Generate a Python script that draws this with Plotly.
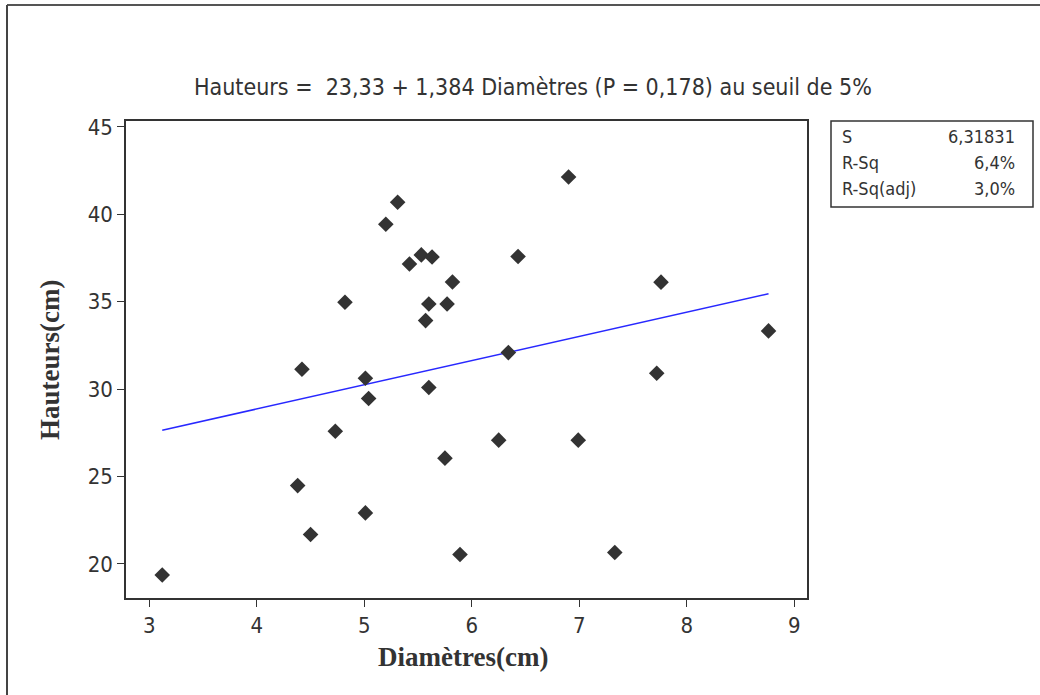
import plotly.graph_objects as go

# Data
diametres = [3.12, 4.38, 4.42, 4.50, 4.73, 4.82, 5.01, 5.01, 5.04, 5.20,
             5.31, 5.42, 5.53, 5.57, 5.60, 5.60, 5.63, 5.75, 5.77, 5.82,
             5.89, 6.25, 6.34, 6.43, 6.90, 6.99, 7.33, 7.72, 7.76, 8.76]
hauteurs = [19.37, 24.48, 31.14, 21.68, 27.59, 34.97, 30.62, 22.92, 29.46, 39.43,
            40.69, 37.16, 37.68, 33.92, 34.87, 30.09, 37.56, 26.05, 34.87, 36.13,
            20.54, 27.08, 32.09, 37.59, 42.14, 27.08, 20.65, 30.91, 36.12, 33.33]

intercept = 23.33
slope = 1.384

x_ticks = [3, 4, 5, 6, 7, 8, 9]
y_ticks = [20, 25, 30, 35, 40, 45]

stat_labels = ["S", "R-Sq", "R-Sq(adj)"]
stat_values = ["6,31831", "6,4%", "3,0%"]

title_text = "Hauteurs =  23,33 + 1,384 Diamètres (P = 0,178) au seuil de 5%"

SANS = "DejaVu Sans Condensed, Noto Sans, DejaVu Sans, sans-serif"
SERIF = "Liberation Serif, Times New Roman, serif"
DARK = "#333333"

# Layout geometry (pixels)
W, H = 1040, 695
L, R, T, B = 126, 807, 121, 598
PW, PH = R - L, B - T


def px(x):
    return (x - L) / PW


def py(y):
    return (B - y) / PH


fig = go.Figure()

x_line = [min(diametres), max(diametres)]
y_line = [intercept + slope * v for v in x_line]
fig.add_trace(go.Scatter(x=x_line, y=y_line, mode="lines",
                         line=dict(color="rgb(40,40,255)", width=1.5),
                         hoverinfo="skip", showlegend=False))

fig.add_trace(go.Scatter(x=diametres, y=hauteurs, mode="markers",
                         marker=dict(symbol="diamond", size=12, color=DARK,
                                     line=dict(width=0)),
                         showlegend=False))

axis_common = dict(showgrid=False, zeroline=False, showline=True, mirror=True,
                   linecolor=DARK, linewidth=1.5, ticks="outside", ticklen=7,
                   tickcolor=DARK, tickwidth=1,
                   tickfont=dict(family=SANS, size=22, color=DARK))

fig.update_xaxes(range=[2.783, 9.118], tickvals=x_ticks,
                 ticktext=[str(v) for v in x_ticks], **axis_common)
fig.update_yaxes(range=[18.05, 45.34], tickvals=y_ticks,
                 ticktext=[str(v) for v in y_ticks], **axis_common)

annotations = [
    dict(text=title_text, x=px(533), y=py(87), xref="paper", yref="paper",
         showarrow=False, xanchor="center", yanchor="middle",
         font=dict(family=SANS, size=23, color=DARK)),
    dict(text="<b>Diamètres(cm)</b>", x=px(463), y=py(657), xref="paper", yref="paper",
         showarrow=False, xanchor="center", yanchor="middle",
         font=dict(family=SERIF, size=27, color=DARK)),
    dict(text="<b>Hauteurs(cm)</b>", x=px(50), y=py(360), xref="paper", yref="paper",
         showarrow=False, xanchor="center", yanchor="middle", textangle=-90,
         font=dict(family=SERIF, size=27, color=DARK)),
]

row_y = [136, 162, 188]
for lab, val, yy in zip(stat_labels, stat_values, row_y):
    annotations.append(dict(text=lab, x=px(840), y=py(yy), xref="paper", yref="paper",
                            showarrow=False, xanchor="left", yanchor="middle",
                            font=dict(family=SANS, size=18, color=DARK)))
    annotations.append(dict(text=val, x=px(1017), y=py(yy), xref="paper", yref="paper",
                            showarrow=False, xanchor="right", yanchor="middle",
                            font=dict(family=SANS, size=18, color=DARK)))

shapes = [
    dict(type="rect", xref="paper", yref="paper", x0=px(831), x1=px(1033),
         y0=py(207), y1=py(121), line=dict(color=DARK, width=1.5)),
    dict(type="line", xref="paper", yref="paper", x0=px(7), x1=px(1045),
         y0=py(5), y1=py(5), line=dict(color="#555555", width=2)),
    dict(type="line", xref="paper", yref="paper", x0=px(7), x1=px(7),
         y0=py(5), y1=py(700), line=dict(color="#444444", width=2)),
]

fig.update_layout(width=W, height=H, margin=dict(l=L, r=W - R, t=T, b=H - B),
                  paper_bgcolor="white", plot_bgcolor="white",
                  annotations=annotations, shapes=shapes, showlegend=False)

fig.write_html("out.html")
